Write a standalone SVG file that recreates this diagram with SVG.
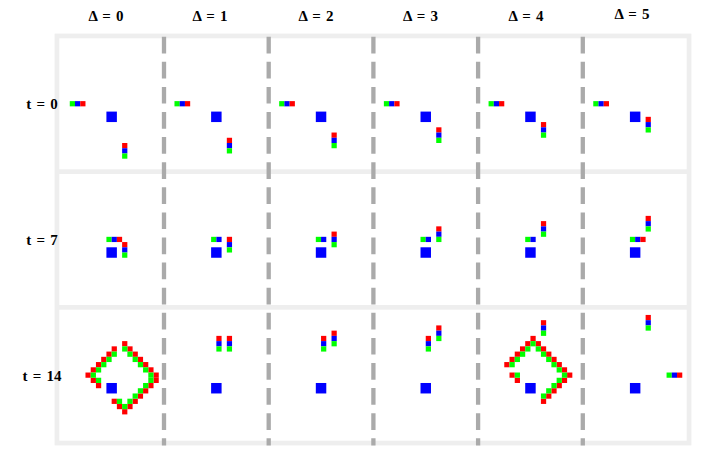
<svg xmlns="http://www.w3.org/2000/svg" width="705" height="454" viewBox="0 0 705 454">
<style>
.r{fill:#ff0000}.g{fill:#00ff00}.b{fill:#0000ff}
.hd{font-family:"Liberation Serif","DejaVu Serif",serif;font-weight:bold;font-size:15px;text-anchor:middle;fill:#000;word-spacing:1.5px}
.dash{stroke:#aaaaaa;stroke-width:4.3;stroke-dasharray:16.7 8.4;fill:none}
</style>
<defs>
<rect id="sq" x="9" y="14" width="2" height="2" class="b"/>
</defs>
<rect x="0" y="0" width="705" height="454" fill="#fff"/>
<g id="frame">
<rect x="54.6" y="33.6" width="636.8" height="411.8" fill="#eeeeee"/>
<rect x="59.3" y="38.3" width="627.4" height="131" fill="#fff"/>
<rect x="59.3" y="174" width="627.4" height="131" fill="#fff"/>
<rect x="59.3" y="309.7" width="627.4" height="131" fill="#fff"/>
</g>
<g id="dividers">
<line class="dash" x1="164" y1="36.7" x2="164" y2="445.4"/>
<line class="dash" x1="268.7" y1="36.7" x2="268.7" y2="445.4"/>
<line class="dash" x1="373.4" y1="36.7" x2="373.4" y2="445.4"/>
<line class="dash" x1="478.1" y1="36.7" x2="478.1" y2="445.4"/>
<line class="dash" x1="582.8" y1="36.7" x2="582.8" y2="445.4"/>
</g>
<g id="headers" class="hd">
<text x="106" y="20.5">Δ = 0</text>
<text x="210" y="20.5">Δ = 1</text>
<text x="316" y="20.5">Δ = 2</text>
<text x="420.5" y="20.5">Δ = 3</text>
<text x="526" y="20.5">Δ = 4</text>
<text x="632" y="18.5">Δ = 5</text>
</g>
<g id="rowlabels" class="hd">
<text x="42" y="109">t = 0</text>
<text x="42" y="244.5">t = 7</text>
<text x="42" y="380.5">t = 14</text>
</g>
<!-- row t=0 -->
<g id="c-t0-d0" transform="translate(59.3,38.3) scale(5.235)">
<rect x="2" y="12" width="1" height="1" class="g"/><rect x="3" y="12" width="1" height="1" class="b"/><rect x="4" y="12" width="1" height="1" class="r"/>
<use href="#sq"/>
<rect x="12" y="20" width="1" height="1" class="r"/><rect x="12" y="21" width="1" height="1" class="b"/><rect x="12" y="22" width="1" height="1" class="g"/>
</g>
<g id="c-t0-d1" transform="translate(164,38.3) scale(5.235)">
<rect x="2" y="12" width="1" height="1" class="g"/><rect x="3" y="12" width="1" height="1" class="b"/><rect x="4" y="12" width="1" height="1" class="r"/>
<use href="#sq"/>
<rect x="12" y="19" width="1" height="1" class="r"/><rect x="12" y="20" width="1" height="1" class="b"/><rect x="12" y="21" width="1" height="1" class="g"/>
</g>
<g id="c-t0-d2" transform="translate(268.7,38.3) scale(5.235)">
<rect x="2" y="12" width="1" height="1" class="g"/><rect x="3" y="12" width="1" height="1" class="b"/><rect x="4" y="12" width="1" height="1" class="r"/>
<use href="#sq"/>
<rect x="12" y="18" width="1" height="1" class="r"/><rect x="12" y="19" width="1" height="1" class="b"/><rect x="12" y="20" width="1" height="1" class="g"/>
</g>
<g id="c-t0-d3" transform="translate(373.4,38.3) scale(5.235)">
<rect x="2" y="12" width="1" height="1" class="g"/><rect x="3" y="12" width="1" height="1" class="b"/><rect x="4" y="12" width="1" height="1" class="r"/>
<use href="#sq"/>
<rect x="12" y="17" width="1" height="1" class="r"/><rect x="12" y="18" width="1" height="1" class="b"/><rect x="12" y="19" width="1" height="1" class="g"/>
</g>
<g id="c-t0-d4" transform="translate(478.1,38.3) scale(5.235)">
<rect x="2" y="12" width="1" height="1" class="g"/><rect x="3" y="12" width="1" height="1" class="b"/><rect x="4" y="12" width="1" height="1" class="r"/>
<use href="#sq"/>
<rect x="12" y="16" width="1" height="1" class="r"/><rect x="12" y="17" width="1" height="1" class="b"/><rect x="12" y="18" width="1" height="1" class="g"/>
</g>
<g id="c-t0-d5" transform="translate(582.8,38.3) scale(5.235)">
<rect x="2" y="12" width="1" height="1" class="g"/><rect x="3" y="12" width="1" height="1" class="b"/><rect x="4" y="12" width="1" height="1" class="r"/>
<use href="#sq"/>
<rect x="12" y="15" width="1" height="1" class="r"/><rect x="12" y="16" width="1" height="1" class="b"/><rect x="12" y="17" width="1" height="1" class="g"/>
</g>
<!-- row t=7 -->
<g id="c-t7-d0" transform="translate(59.3,174) scale(5.235)">
<rect x="9" y="12" width="1" height="1" class="g"/><rect x="10" y="12" width="1" height="1" class="b"/><rect x="11" y="12" width="1" height="1" class="r"/>
<use href="#sq"/>
<rect x="12" y="13" width="1" height="1" class="r"/><rect x="12" y="14" width="1" height="1" class="b"/><rect x="12" y="15" width="1" height="1" class="g"/>
</g>
<g id="c-t7-d1" transform="translate(164,174) scale(5.235)">
<rect x="9" y="12" width="1" height="1" class="g"/><rect x="10" y="12" width="1" height="1" class="b"/>
<use href="#sq"/>
<rect x="12" y="12" width="1" height="1" class="r"/><rect x="12" y="13" width="1" height="1" class="b"/><rect x="12" y="14" width="1" height="1" class="g"/>
</g>
<g id="c-t7-d2" transform="translate(268.7,174) scale(5.235)">
<rect x="9" y="12" width="1" height="1" class="g"/><rect x="10" y="12" width="1" height="1" class="b"/>
<use href="#sq"/>
<rect x="12" y="11" width="1" height="1" class="r"/><rect x="12" y="12" width="1" height="1" class="b"/><rect x="12" y="13" width="1" height="1" class="g"/>
</g>
<g id="c-t7-d3" transform="translate(373.4,174) scale(5.235)">
<rect x="9" y="12" width="1" height="1" class="g"/><rect x="10" y="12" width="1" height="1" class="b"/>
<use href="#sq"/>
<rect x="12" y="10" width="1" height="1" class="r"/><rect x="12" y="11" width="1" height="1" class="b"/><rect x="12" y="12" width="1" height="1" class="g"/>
</g>
<g id="c-t7-d4" transform="translate(478.1,174) scale(5.235)">
<rect x="9" y="12" width="1" height="1" class="g"/><rect x="10" y="12" width="1" height="1" class="b"/>
<use href="#sq"/>
<rect x="12" y="9" width="1" height="1" class="r"/><rect x="12" y="10" width="1" height="1" class="b"/><rect x="12" y="11" width="1" height="1" class="g"/>
</g>
<g id="c-t7-d5" transform="translate(582.8,174) scale(5.235)">
<rect x="9" y="12" width="1" height="1" class="g"/><rect x="10" y="12" width="1" height="1" class="b"/><rect x="11" y="12" width="1" height="1" class="r"/>
<use href="#sq"/>
<rect x="12" y="8" width="1" height="1" class="r"/><rect x="12" y="9" width="1" height="1" class="b"/><rect x="12" y="10" width="1" height="1" class="g"/>
</g>
<!-- row t=14 -->
<g id="c-t14-d0" transform="translate(59.3,309.7) scale(5.235)">
<use href="#sq"/>
<g class="r">
<rect x="12" y="6" width="1" height="1"/><rect x="13" y="7" width="1" height="1"/><rect x="14" y="8" width="1" height="1"/><rect x="15" y="9" width="1" height="1"/><rect x="16" y="10" width="1" height="1"/><rect x="17" y="11" width="1" height="1"/><rect x="18" y="12" width="1" height="1"/>
<rect x="10" y="7" width="1" height="1"/><rect x="9" y="8" width="1" height="1"/><rect x="8" y="9" width="1" height="1"/><rect x="7" y="10" width="1" height="1"/><rect x="6" y="11" width="1" height="1"/><rect x="5" y="12" width="1" height="1"/>
<rect x="6" y="13" width="1" height="1"/><rect x="7" y="14" width="1" height="1"/>
<rect x="18" y="13" width="1" height="1"/><rect x="17" y="14" width="1" height="1"/><rect x="16" y="15" width="1" height="1"/><rect x="15" y="16" width="1" height="1"/><rect x="14" y="17" width="1" height="1"/><rect x="13" y="18" width="1" height="1"/>
<rect x="12" y="19" width="1" height="1"/><rect x="11" y="18" width="1" height="1"/><rect x="10" y="17" width="1" height="1"/>
</g>
<g class="g">
<rect x="12" y="7" width="1" height="1"/><rect x="13" y="8" width="1" height="1"/><rect x="14" y="9" width="1" height="1"/><rect x="15" y="10" width="1" height="1"/><rect x="16" y="11" width="1" height="1"/><rect x="17" y="12" width="1" height="1"/>
<rect x="10" y="8" width="1" height="1"/><rect x="9" y="9" width="1" height="1"/><rect x="8" y="10" width="1" height="1"/><rect x="7" y="11" width="1" height="1"/><rect x="6" y="12" width="1" height="1"/>
<rect x="7" y="13" width="1" height="1"/>
<rect x="17" y="13" width="1" height="1"/><rect x="16" y="14" width="1" height="1"/><rect x="15" y="15" width="1" height="1"/><rect x="14" y="16" width="1" height="1"/><rect x="13" y="17" width="1" height="1"/><rect x="12" y="18" width="1" height="1"/>
<rect x="11" y="17" width="1" height="1"/>
</g>
</g>
<g id="c-t14-d1" transform="translate(164,309.7) scale(5.235)">
<use href="#sq"/>
<rect x="10" y="5" width="1" height="1" class="r"/><rect x="10" y="6" width="1" height="1" class="b"/><rect x="10" y="7" width="1" height="1" class="g"/>
<rect x="12" y="5" width="1" height="1" class="r"/><rect x="12" y="6" width="1" height="1" class="b"/><rect x="12" y="7" width="1" height="1" class="g"/>
</g>
<g id="c-t14-d2" transform="translate(268.7,309.7) scale(5.235)">
<use href="#sq"/>
<rect x="10" y="5" width="1" height="1" class="r"/><rect x="10" y="6" width="1" height="1" class="b"/><rect x="10" y="7" width="1" height="1" class="g"/>
<rect x="12" y="4" width="1" height="1" class="r"/><rect x="12" y="5" width="1" height="1" class="b"/><rect x="12" y="6" width="1" height="1" class="g"/>
</g>
<g id="c-t14-d3" transform="translate(373.4,309.7) scale(5.235)">
<use href="#sq"/>
<rect x="10" y="5" width="1" height="1" class="r"/><rect x="10" y="6" width="1" height="1" class="b"/><rect x="10" y="7" width="1" height="1" class="g"/>
<rect x="12" y="3" width="1" height="1" class="r"/><rect x="12" y="4" width="1" height="1" class="b"/><rect x="12" y="5" width="1" height="1" class="g"/>
</g>
<g id="c-t14-d4" transform="translate(478.1,309.7) scale(5.235)">
<use href="#sq"/>
<rect x="12" y="2" width="1" height="1" class="r"/><rect x="12" y="3" width="1" height="1" class="b"/><rect x="12" y="4" width="1" height="1" class="g"/>
<g class="r">
<rect x="10" y="5" width="1" height="1"/><rect x="11" y="6" width="1" height="1"/><rect x="12" y="7" width="1" height="1"/><rect x="13" y="8" width="1" height="1"/><rect x="14" y="9" width="1" height="1"/><rect x="15" y="10" width="1" height="1"/><rect x="16" y="11" width="1" height="1"/><rect x="17" y="12" width="1" height="1"/>
<rect x="9" y="6" width="1" height="1"/><rect x="8" y="7" width="1" height="1"/><rect x="7" y="8" width="1" height="1"/><rect x="6" y="9" width="1" height="1"/><rect x="5" y="10" width="1" height="1"/>
<rect x="6" y="12" width="1" height="1"/><rect x="7" y="13" width="1" height="1"/>
<rect x="16" y="13" width="1" height="1"/><rect x="15" y="14" width="1" height="1"/><rect x="14" y="15" width="1" height="1"/><rect x="13" y="16" width="1" height="1"/><rect x="12" y="17" width="1" height="1"/>
</g>
<g class="g">
<rect x="10" y="6" width="1" height="1"/><rect x="11" y="7" width="1" height="1"/><rect x="12" y="8" width="1" height="1"/><rect x="13" y="9" width="1" height="1"/><rect x="14" y="10" width="1" height="1"/><rect x="15" y="11" width="1" height="1"/><rect x="16" y="12" width="1" height="1"/>
<rect x="9" y="7" width="1" height="1"/><rect x="8" y="8" width="1" height="1"/><rect x="7" y="9" width="1" height="1"/><rect x="6" y="10" width="1" height="1"/>
<rect x="7" y="12" width="1" height="1"/>
<rect x="15" y="13" width="1" height="1"/><rect x="14" y="14" width="1" height="1"/><rect x="13" y="15" width="1" height="1"/><rect x="12" y="16" width="1" height="1"/>
</g>
</g>
<g id="c-t14-d5" transform="translate(582.8,309.7) scale(5.235)">
<use href="#sq"/>
<rect x="12" y="1" width="1" height="1" class="r"/><rect x="12" y="2" width="1" height="1" class="b"/><rect x="12" y="3" width="1" height="1" class="g"/>
<rect x="16" y="12" width="1" height="1" class="g"/><rect x="17" y="12" width="1" height="1" class="b"/><rect x="18" y="12" width="1" height="1" class="r"/>
</g>
</svg>
